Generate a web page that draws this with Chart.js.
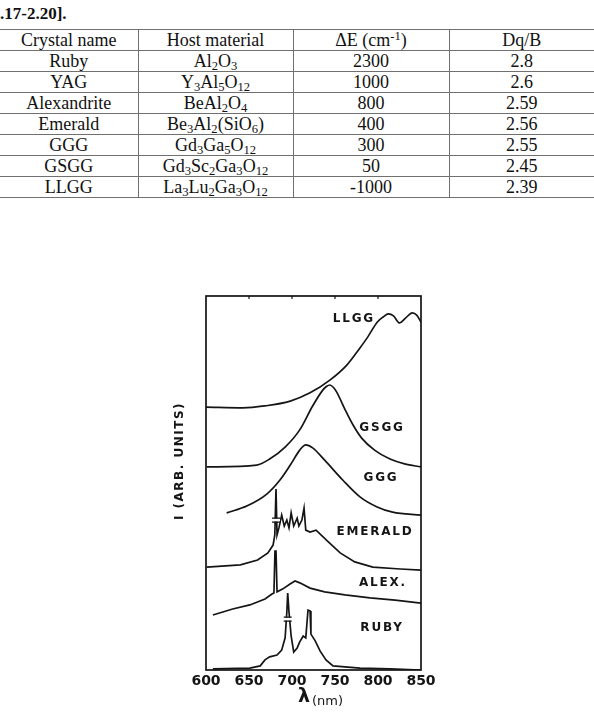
<!DOCTYPE html>
<html>
<head>
<meta charset="utf-8">
<script src="https://cdn.jsdelivr.net/npm/chart.js@4.4.0/dist/chart.umd.min.js"></script>
<style>
  html, body { margin: 0; padding: 0; background: #fff; width: 594px; height: 713px; overflow: hidden; }
  #cap { position: absolute; left: 0; top: 4px; font: bold 17px "Liberation Serif", serif; color: #111; }
  table { position: absolute; left: 0; top: 29px; border-collapse: collapse; font: 18px "Liberation Serif", serif; color: #111; }
  td { border: 1px solid #707070; height: 20px; padding: 0; text-align: center; line-height: 1; }
  td:first-child { border-left: none; }
  td:last-child { border-right: none; }
  sub, sup { font-size: 0.7em; line-height: 0; position: relative; vertical-align: baseline; }
  sub { top: 0.25em; }
  sup { top: -0.45em; }
  #wrap { position: absolute; left: 160px; top: 285px; width: 290px; height: 428px; }
</style>
</head>
<body>
<div id="cap">.17-2.20].</div>
<table>
  <colgroup><col style="width:138px"><col style="width:155px"><col style="width:156px"><col style="width:145px"></colgroup>
  <tr><td>Crystal name</td><td>Host material</td><td>ΔE (cm<sup>-1</sup>)</td><td>Dq/B</td></tr>
  <tr><td>Ruby</td><td>Al<sub>2</sub>O<sub>3</sub></td><td>2300</td><td>2.8</td></tr>
  <tr><td>YAG</td><td>Y<sub>3</sub>Al<sub>5</sub>O<sub>12</sub></td><td>1000</td><td>2.6</td></tr>
  <tr><td>Alexandrite</td><td>BeAl<sub>2</sub>O<sub>4</sub></td><td>800</td><td>2.59</td></tr>
  <tr><td>Emerald</td><td>Be<sub>3</sub>Al<sub>2</sub>(SiO<sub>6</sub>)</td><td>400</td><td>2.56</td></tr>
  <tr><td>GGG</td><td>Gd<sub>3</sub>Ga<sub>5</sub>O<sub>12</sub></td><td>300</td><td>2.55</td></tr>
  <tr><td>GSGG</td><td>Gd<sub>3</sub>Sc<sub>2</sub>Ga<sub>3</sub>O<sub>12</sub></td><td>50</td><td>2.45</td></tr>
  <tr><td>LLGG</td><td>La<sub>3</sub>Lu<sub>2</sub>Ga<sub>3</sub>O<sub>12</sub></td><td>-1000</td><td>2.39</td></tr>
</table>
<div id="wrap"><canvas id="spec"></canvas></div>
<script>
// wavelengths (nm) and stacked intensities (arb. units)
const waveTicks = [600, 650, 700, 750, 800, 850];

const llggNm = [600, 643, 668, 698, 721, 744, 764, 779, 788, 799, 806, 812, 818, 825, 832, 840, 845, 850];
const llggI  = [70.3, 70.1, 70.6, 71.9, 74.1, 77.5, 81.6, 86.1, 89.0, 93.0, 94.4, 95.2, 94.7, 92.8, 94.1, 95.5, 94.9, 93.0];

const gsggNm = [601, 659, 674, 692, 709, 724, 736, 740, 744, 748, 752, 762, 771, 781, 796, 814, 831, 850];
const gsggI  = [54.3, 54.8, 56.4, 59.6, 64.2, 70.6, 74.9, 75.8, 76.2, 75.6, 74.3, 69.5, 65.5, 62.0, 58.8, 56.4, 55.1, 54.3];

const gggNm = [624, 648, 671, 686, 698, 709, 716, 724, 738, 759, 779, 799, 817, 850];
const gggI  = [42.0, 43.9, 47.1, 50.8, 54.8, 58.8, 60.2, 59.4, 56.1, 50.8, 46.3, 43.6, 42.2, 41.4];

const emeraldNm = [601, 640, 660, 672, 678, 680, 681.4, 682.6, 685, 688, 691, 694, 696.5, 699, 702, 706, 708, 711.5, 714, 716, 721, 728, 741, 756, 773, 794, 826, 850];
const emeraldI  = [27.5, 28.1, 29.4, 31.3, 33.4, 36.1, 48.4, 36.1, 38.2, 41.4, 38.5, 40.1, 38.0, 42.0, 38.5, 40.6, 38.5, 40.1, 43.3, 37.4, 36.9, 37.4, 34.5, 31.3, 28.9, 27.5, 27.0, 26.7];

const alexNm = [608, 631, 651, 668.6, 676.7, 679, 680.2, 681.4, 682.6, 689.5, 697.7, 703.5, 709, 721, 738, 761.6, 790.7, 819.8, 850];
const alexI  = [14.7, 16.3, 17.4, 19.0, 20.3, 20.6, 31.8, 31.8, 20.9, 21.7, 23.0, 23.8, 23.3, 21.9, 20.9, 20.1, 19.3, 18.7, 17.9];

const rubyNm = [608, 651, 663, 668.6, 674, 682.6, 688, 692, 694, 695, 696.5, 699, 702, 706, 709, 713, 716, 718.6, 721, 722, 727, 732.6, 739.5, 747.7, 779, 814, 850];
const rubyI  = [0.3, 0.5, 1.1, 2.7, 3.5, 4.0, 5.3, 8.6, 15.5, 20.6, 15.5, 9.1, 4.8, 5.9, 7.5, 9.1, 8.6, 16.0, 15.8, 9.6, 7.8, 5.1, 2.7, 1.1, 0.5, 0.3, 0];

// curve names and where they are printed (nm, intensity)
const curveLabels = [
  { text: "LLGG", x: 772, y: 93.9 },
  { text: "GSGG", x: 804.7, y: 64.7 },
  { text: "GGG", x: 803.5, y: 51.3 },
  { text: "EMERALD", x: 796.5, y: 36.9 },
  { text: "ALEX.", x: 805.8, y: 23.3 },
  { text: "RUBY", x: 804.7, y: 11.2 },
];

// scale-break marks drawn across the tallest lines
const breakMarks = [
  { x: 681.4, y: 40.1 },
  { x: 695, y: 13.6 },
];

const ink = "#151515";

function pts(xs, ys) {
  return xs.map((x, i) => ({ x: x, y: ys[i] }));
}

function curve(name, xs, ys, smooth) {
  return {
    label: name,
    data: pts(xs, ys),
    borderColor: ink,
    borderWidth: 1.7,
    pointRadius: 0,
    fill: false,
    tension: smooth ? 0.4 : 0,
    cubicInterpolationMode: smooth ? "monotone" : "default",
  };
}

const framePlugin = {
  id: "frame",
  afterDatasetsDraw(chart) {
    const { ctx, chartArea: a, scales } = chart;
    const xs = scales.x, ys = scales.y;
    ctx.save();
    ctx.strokeStyle = ink;

    // break marks: a small white gap closed by two short bars
    ctx.lineWidth = 1.2;
    breakMarks.forEach((b) => {
      const px = xs.getPixelForValue(b.x), py = ys.getPixelForValue(b.y);
      ctx.fillStyle = "#fff";
      ctx.fillRect(px - 4, py - 1.5, 8, 3);
      ctx.beginPath();
      ctx.moveTo(px - 4, py - 2); ctx.lineTo(px + 4, py - 2);
      ctx.moveTo(px - 4, py + 2); ctx.lineTo(px + 4, py + 2);
      ctx.stroke();
    });

    ctx.lineWidth = 1.7;
    ctx.strokeRect(a.left, a.top, a.right - a.left, a.bottom - a.top);
    // small inward ticks on the top edge
    ctx.lineWidth = 1.2;
    waveTicks.slice(1, -1).forEach((w) => {
      const px = xs.getPixelForValue(w);
      ctx.beginPath();
      ctx.moveTo(px, a.top);
      ctx.lineTo(px, a.top + 3);
      ctx.stroke();
    });

    ctx.fillStyle = ink;
    ctx.textAlign = "center";
    ctx.textBaseline = "middle";
    ctx.font = "bold 12px 'DejaVu Sans'";
    ctx.letterSpacing = "1.8px";
    curveLabels.forEach((l) => {
      ctx.fillText(l.text, xs.getPixelForValue(l.x), ys.getPixelForValue(l.y));
    });

    // y title
    ctx.save();
    ctx.translate(20, 176);
    ctx.rotate(-Math.PI / 2);
    ctx.font = "bold 12px 'DejaVu Sans'";
    ctx.letterSpacing = "1.5px";
    ctx.fillText("I (ARB. UNITS)", 0, 0);
    ctx.restore();

    // x title
    ctx.letterSpacing = "0px";
    ctx.textAlign = "left";
    ctx.textBaseline = "alphabetic";
    ctx.font = "bold 19px 'DejaVu Sans'";
    ctx.fillText("λ", 138, 417);
    ctx.font = "13px 'DejaVu Sans'";
    ctx.fillText("(nm)", 152, 420);
    ctx.restore();
  },
};

new Chart(document.getElementById("spec"), {
  type: "line",
  data: {
    datasets: [
      curve("LLGG", llggNm, llggI, true),
      curve("GSGG", gsggNm, gsggI, true),
      curve("GGG", gggNm, gggI, true),
      curve("EMERALD", emeraldNm, emeraldI, false),
      curve("ALEX.", alexNm, alexI, false),
      curve("RUBY", rubyNm, rubyI, false),
    ],
  },
  options: {
    responsive: true,
    maintainAspectRatio: false,
    animation: false,
    events: [],
    layout: { padding: { left: 46, right: 29, top: 11, bottom: 0 } },
    plugins: {
      legend: { display: false },
      tooltip: { enabled: false },
    },
    scales: {
      x: {
        type: "linear",
        min: 600,
        max: 850,
        afterBuildTicks: (s) => { s.ticks = waveTicks.map((v) => ({ value: v })); },
        afterFit: (s) => { s.height = 43; },
        ticks: {
          color: ink,
          padding: 3,
          maxRotation: 0,
          autoSkip: false,
          font: { family: "DejaVu Sans", weight: "bold", size: 14 },
        },
        grid: { display: false, drawTicks: false },
        border: { display: false },
      },
      y: {
        display: false,
        min: 0,
        max: 100,
      },
    },
  },
  plugins: [framePlugin],
});
</script>
</body>
</html>
